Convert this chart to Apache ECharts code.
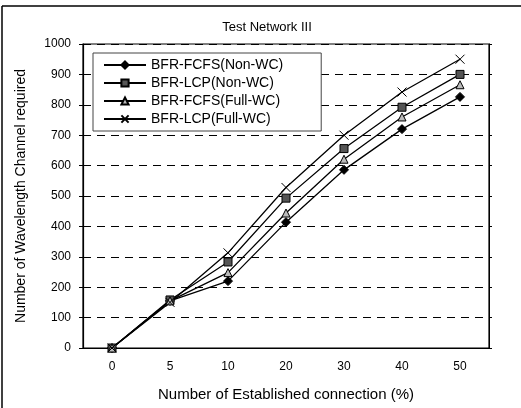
<!DOCTYPE html>
<html>
<head>
<meta charset="utf-8">
<script src="https://cdn.jsdelivr.net/npm/echarts@6/dist/echarts.min.js"></script>
<style>html,body{margin:0;padding:0;background:#fff}#c{width:521px;height:408px}</style>
</head>
<body>
<div id="c"></div>
<script>
const categories = ['0', '5', '10', '20', '30', '40', '50'];
const fcfsNonWC = [0, 155, 220, 414, 586, 720, 826];
const lcpNonWC = [0, 158, 283, 493, 656, 792, 900];
const fcfsFullWC = [0, 155, 248, 444, 621, 760, 866];
const lcpFullWC = [0, 150, 313, 528, 700, 842, 950];
const seriesNames = ['BFR-FCFS(Non-WC)', 'BFR-LCP(Non-WC)', 'BFR-FCFS(Full-WC)', 'BFR-LCP(Full-WC)'];

const font = 'Arial, "Liberation Sans", sans-serif';
const chart = echarts.init(document.getElementById('c'), null, {renderer: 'canvas'});
const xPath = 'path://M0,0L10,10M10,0L0,10';
function mk(name, data, symbol, size, fill) {
  return {
    name: name, type: 'line', data: data, symbol: symbol, symbolSize: size,
    showAllSymbol: true,
    lineStyle: {color: '#000', width: 1.3},
    itemStyle: {color: fill, borderColor: '#000', borderWidth: 1},
    emphasis: {disabled: true}
  };
}
chart.setOption({
  animation: false,
  backgroundColor: '#fff',
  title: {text: 'Test Network III', left: 262, textAlign: 'center', top: 16,
    textStyle: {fontFamily: font, fontSize: 13, fontWeight: 'normal', color: '#000'}},
  grid: {left: 83, top: 44, right: 32, bottom: 60, show: true, borderColor: '#000', borderWidth: 1.2},
  legend: {
    orient: 'vertical', left: 93, top: 53, itemWidth: 42, itemHeight: 9, itemGap: 4,
    data: seriesNames,
    borderColor: '#444', borderWidth: 1, padding: [5, 38, 5, 10], backgroundColor: '#fff',
    textStyle: {fontFamily: font, fontSize: 14, color: '#000'}
  },
  xAxis: {
    type: 'category', data: categories, boundaryGap: true,
    name: 'Number of Established connection (%)', nameLocation: 'middle', nameGap: 39,
    nameTextStyle: {fontFamily: font, fontSize: 15, color: '#000'},
    axisLine: {lineStyle: {color: '#000', width: 1.2}},
    axisTick: {inside: true, length: 3, lineStyle: {color: '#000'}},
    axisLabel: {fontFamily: font, fontSize: 12, color: '#000', margin: 13},
    splitLine: {show: false}
  },
  yAxis: [{
    type: 'value', min: 0, max: 1000, interval: 100,
    name: 'Number of Wavelength Channel required', nameLocation: 'middle', nameGap: 55, nameRotate: 90,
    nameTextStyle: {fontFamily: font, fontSize: 14, color: '#000'},
    axisLine: {show: true, lineStyle: {color: '#000', width: 1.2}},
    axisTick: {show: true, length: 4, lineStyle: {color: '#000'}},
    axisLabel: {fontFamily: font, fontSize: 12, color: '#000', margin: 12, formatter: function (v) { return String(v); }},
    splitLine: {show: true, lineStyle: {color: '#000', type: [8, 6], width: 1}}
  }, {
    type: 'value', min: 0, max: 1000, interval: 100, position: 'right',
    axisLine: {show: true, lineStyle: {color: '#000'}},
    axisTick: {show: true, length: 3, lineStyle: {color: '#000'}},
    axisLabel: {show: false}, splitLine: {show: false}
  }],
  series: [
    mk(seriesNames[0], fcfsNonWC, 'diamond', 9, '#000'),
    mk(seriesNames[1], lcpNonWC, 'rect', 8, '#555'),
    mk(seriesNames[2], fcfsFullWC, 'triangle', 8, '#bbb'),
    mk(seriesNames[3], lcpFullWC, xPath, 9, 'none')
  ],
  graphic: [
    {type: 'line', shape: {x1: 2, y1: 6, x2: 2, y2: 408}, style: {stroke: '#000', lineWidth: 1.5}, silent: true},
    {type: 'line', shape: {x1: 2, y1: 6, x2: 521, y2: 6}, style: {stroke: '#000', lineWidth: 1.5}, silent: true}
  ]
});
</script>
</body>
</html>
